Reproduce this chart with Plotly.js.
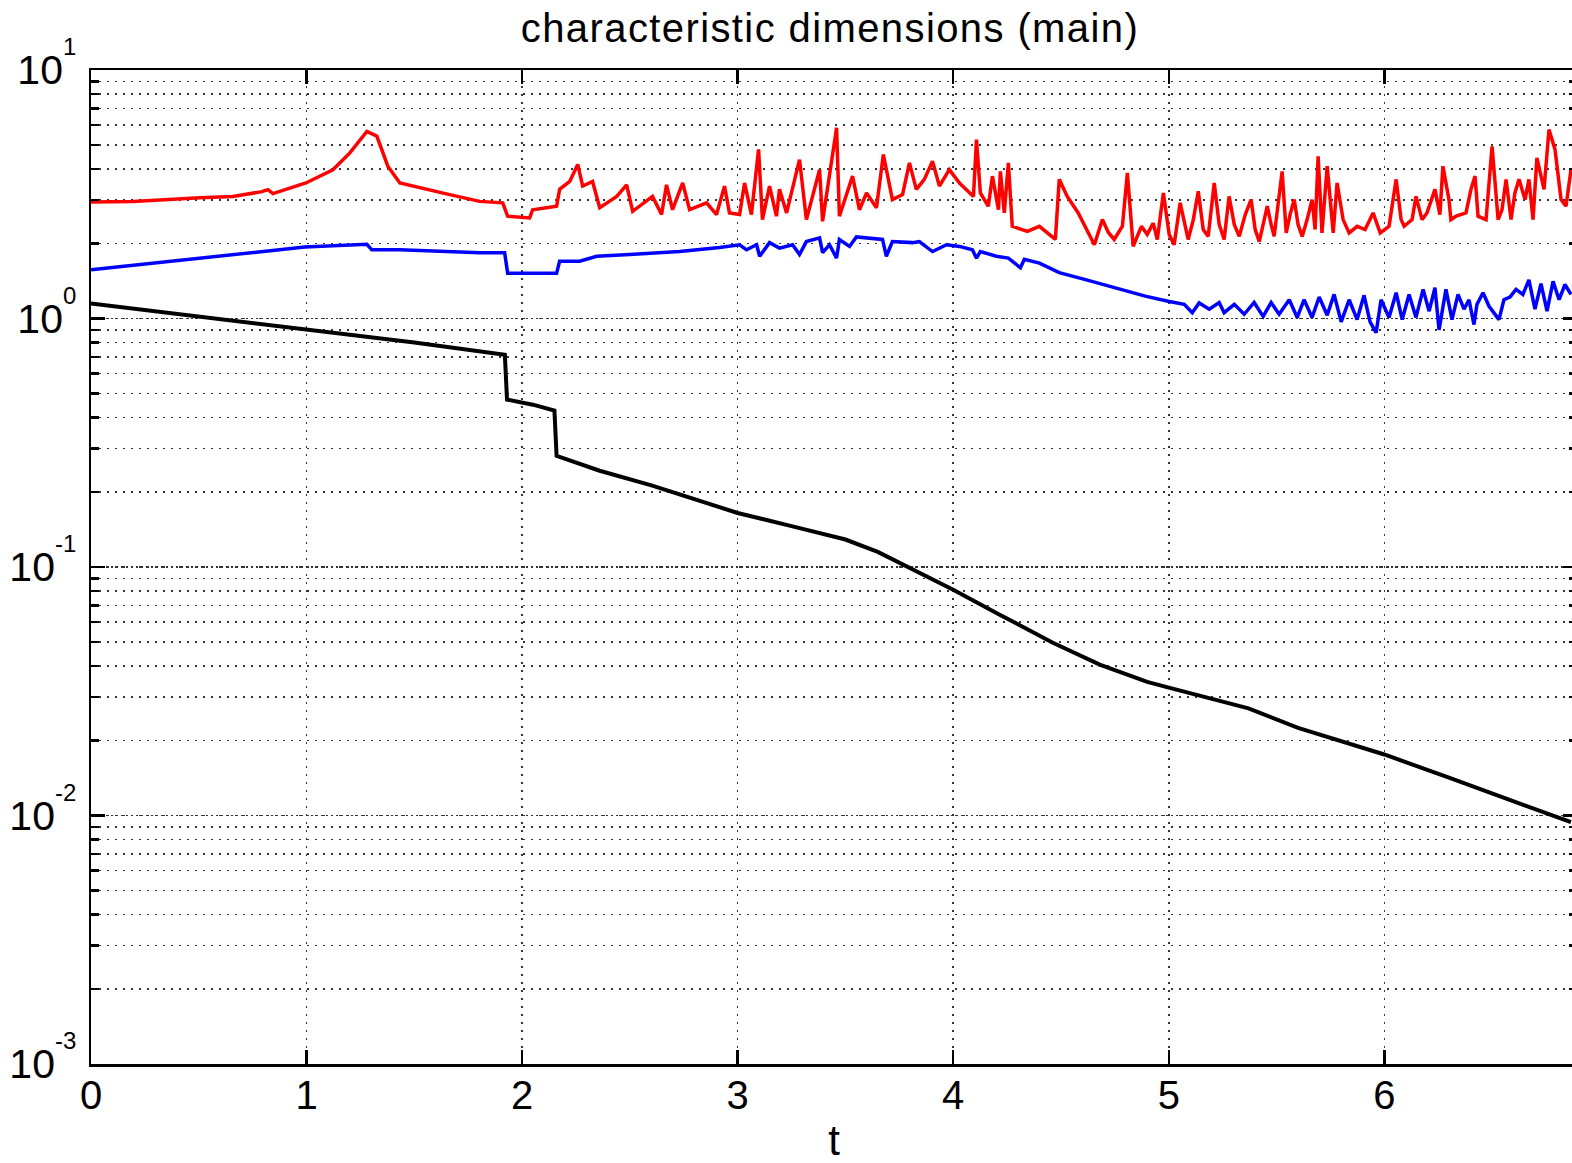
<!DOCTYPE html>
<html>
<head>
<meta charset="utf-8">
<script src="https://cdn.plot.ly/plotly-3.0.1.min.js"></script>
<style>
html, body { margin: 0; padding: 0; overflow: hidden; background: #fff; width: 1572px; height: 1163px; }
#chart { width: 1600px; height: 1180px; }
.gtitle { letter-spacing: 1.4px; }
</style>
</head>
<body>
<div id="chart"></div>
<script>
// ---- data ----
const titleText = 'characteristic dimensions (main)';
const xLabel = 't';
const xTickVals = [0, 1, 2, 3, 4, 5, 6, 7];
const yTickVals = [0.001, 0.01, 0.1, 1, 10];
const yTickExp = ['-3', '-2', '-1', '0', '1'];

const redT = [0,0.195,0.505,0.658,0.793,0.821,0.844,0.997,1.122,1.201,
1.280,1.326,1.377,1.433,1.664,1.803,1.910,1.933,2.035,2.049,
2.160,2.174,2.221,2.258,2.281,2.327,2.360,2.439,2.485,2.513,
2.605,2.647,2.670,2.698,2.745,2.777,2.856,2.902,2.939,2.962,
3.009,3.032,3.064,3.097,3.115,3.148,3.180,3.194,3.227,3.287,
3.319,3.356,3.380,3.394,3.459,3.472,3.505,3.533,3.565,3.598,
3.644,3.676,3.718,3.765,3.797,3.829,3.866,3.904,3.936,3.982,
4.029,4.094,4.108,4.126,4.163,4.182,4.210,4.219,4.237,4.256,
4.274,4.344,4.400,4.474,4.492,4.529,4.580,4.618,4.655,4.692,
4.720,4.747,4.785,4.808,4.835,4.873,4.900,4.928,4.947,4.975,
5.002,5.025,5.053,5.090,5.114,5.137,5.160,5.183,5.211,5.234,
5.257,5.280,5.304,5.327,5.355,5.382,5.401,5.420,5.457,5.475,
5.489,5.526,5.545,5.563,5.582,5.600,5.619,5.642,5.665,5.679,
5.693,5.711,5.735,5.763,5.781,5.809,5.837,5.874,5.911,5.948,
5.981,6.022,6.055,6.078,6.092,6.129,6.147,6.175,6.198,6.235,
6.258,6.272,6.300,6.309,6.333,6.379,6.402,6.421,6.435,6.472,
6.500,6.528,6.546,6.565,6.588,6.606,6.625,6.653,6.671,6.690,
6.708,6.741,6.764,6.792,6.820,6.843,6.866];
const redV = [2.94,2.96,3.06,3.10,3.24,3.30,3.18,3.51,3.97,4.64,
5.66,5.42,4.10,3.51,3.15,2.96,2.92,2.58,2.54,2.74,
2.83,3.31,3.56,4.17,3.41,3.56,2.79,3.10,3.45,2.70,
3.10,2.62,3.45,2.74,3.51,2.74,2.92,2.62,3.41,2.66,
2.62,3.51,2.62,4.79,2.50,3.41,2.58,3.31,2.66,4.36,
2.50,3.31,3.97,2.46,5.85,2.58,3.15,3.74,2.74,3.20,
2.79,4.57,3.01,3.15,4.23,3.31,3.63,4.29,3.41,3.97,
3.51,3.10,5.25,3.20,2.83,3.74,2.74,3.91,2.66,4.23,
2.35,2.24,2.35,2.08,3.63,3.10,2.66,2.28,1.98,2.50,
2.22,2.08,2.35,3.85,1.95,2.35,2.18,2.42,2.08,3.20,
2.18,1.98,2.92,2.08,2.50,3.25,2.28,2.14,3.51,2.39,
2.08,3.10,2.39,2.14,2.62,3.01,2.28,2.04,2.83,2.39,
2.14,3.91,2.21,2.62,3.01,2.39,2.14,2.50,3.01,2.28,
4.49,2.21,4.10,2.21,3.51,2.50,2.21,2.35,2.28,2.66,
2.21,2.35,3.63,2.50,2.35,2.50,3.10,2.50,2.66,3.31,
2.62,4.10,3.01,2.50,2.58,2.66,3.31,3.74,2.58,2.50,
4.93,2.50,2.74,3.63,2.50,3.20,3.63,3.01,3.63,2.50,
4.43,3.31,5.76,4.79,3.01,2.83,3.97];

const blueT = [0,0.992,1.280,1.303,1.433,1.803,1.919,1.933,2.160,2.174,
2.267,2.346,2.499,2.731,2.916,3.009,3.041,3.088,3.102,3.148,
3.194,3.255,3.287,3.319,3.380,3.394,3.426,3.459,3.472,3.519,
3.551,3.611,3.672,3.690,3.718,3.811,3.843,3.904,3.969,4.029,
4.089,4.108,4.126,4.200,4.256,4.312,4.330,4.400,4.492,4.618,
4.747,4.891,5.002,5.072,5.109,5.141,5.188,5.234,5.257,5.304,
5.350,5.396,5.438,5.475,5.512,5.559,5.596,5.628,5.665,5.698,
5.735,5.767,5.800,5.837,5.874,5.906,5.934,5.962,5.985,6.022,
6.055,6.083,6.115,6.147,6.180,6.208,6.235,6.254,6.286,6.314,
6.342,6.370,6.393,6.416,6.430,6.458,6.486,6.532,6.555,6.583,
6.611,6.643,6.671,6.699,6.727,6.755,6.783,6.811,6.838,6.866];
const blueV = [1.57,1.94,1.99,1.89,1.89,1.84,1.84,1.52,1.52,1.70,
1.70,1.78,1.81,1.86,1.93,1.98,1.89,1.98,1.78,2.02,
1.92,1.98,1.81,2.04,2.11,1.84,1.98,1.75,2.08,1.95,
2.13,2.11,2.08,1.78,2.04,2.02,2.04,1.86,1.98,1.95,
1.89,1.75,1.86,1.78,1.75,1.60,1.73,1.67,1.53,1.43,
1.33,1.23,1.17,1.14,1.055,1.155,1.09,1.16,1.055,1.14,
1.04,1.16,1.02,1.16,1.04,1.19,1.01,1.19,1.01,1.22,
1.03,1.25,0.97,1.19,0.99,1.24,0.97,0.877,1.19,1.01,
1.27,0.99,1.25,1.01,1.31,1.07,1.33,0.90,1.31,0.99,
1.25,1.09,1.19,0.945,1.14,1.27,1.12,0.99,1.19,1.22,
1.31,1.25,1.43,1.09,1.38,1.07,1.41,1.19,1.37,1.25];

const blackT = [0,0.5,1.0,1.5,1.92,1.93,2.05,2.15,2.16,2.36,
2.6,3.0,3.25,3.5,3.65,3.77,4.0,4.22,4.46,4.68,
4.9,5.0,5.37,5.6,6.0,6.3,6.62,6.866];
const blackV = [1.15,1.02,0.902,0.80,0.714,0.472,0.45,0.426,0.28,0.244,
0.213,0.165,0.146,0.129,0.115,0.102,0.081,0.064,0.0497,0.0405,
0.0345,0.0327,0.027,0.0225,0.0176,0.0142,0.01125,0.0094];

// ---- chart ----
const font = 'Liberation Sans, Arial, Helvetica, sans-serif';
const yTickText = yTickExp.map(e => '10<sup><sup><span style="font-size:24px">' + e + '</span></sup></sup>');

const traces = [
  {x: redT, y: redV, type: 'scatter', mode: 'lines', line: {color: '#ff0000', width: 3.5}, hoverinfo: 'skip'},
  {x: blueT, y: blueV, type: 'scatter', mode: 'lines', line: {color: '#0000ff', width: 3.5}, hoverinfo: 'skip'},
  {x: blackT, y: blackV, type: 'scatter', mode: 'lines', line: {color: '#000000', width: 4}, hoverinfo: 'skip'}
];

const layout = {
  width: 1600,
  height: 1180,
  margin: {l: 91, r: 23, t: 70, b: 116, pad: 0},
  paper_bgcolor: '#ffffff',
  plot_bgcolor: '#ffffff',
  showlegend: false,
  font: {family: font, color: '#000', size: 40},
  title: {
    text: titleText,
    font: {family: font, size: 40, color: '#000'},
    xref: 'container', x: 830 / 1600, xanchor: 'center',
    yref: 'container', y: 1 - 14 / 1180, yanchor: 'top'
  },
  xaxis: {
    range: [0, 6.894],
    tickmode: 'array',
    tickvals: xTickVals,
    ticks: 'inside', ticklen: 14, tickwidth: 2.5, tickcolor: '#000',
    showline: true, linewidth: 2.5, linecolor: '#000', mirror: 'ticks',
    showgrid: true, gridcolor: '#333', gridwidth: 1.5, griddash: '2px,6px',
    zeroline: false,
    tickfont: {family: font, size: 40, color: '#000'},
    ticklabelstandoff: -6,
    automargin: true,
    title: {text: xLabel, font: {family: font, size: 42, color: '#000'}, standoff: 10}
  },
  yaxis: {
    type: 'log',
    range: [-3, 1],
    tickmode: 'array',
    tickvals: yTickVals,
    ticktext: yTickText,
    ticks: 'inside', ticklen: 14, tickwidth: 2.5, tickcolor: '#000',
    showline: true, linewidth: 2.5, linecolor: '#000', mirror: 'ticks',
    showgrid: true, gridcolor: '#333', gridwidth: 1.5, griddash: '2px,3px',
    zeroline: false,
    tickfont: {family: font, size: 41, color: '#000'},
    ticklabelstandoff: 4,
    automargin: false,
    minor: {
      dtick: 'D1',
      ticks: 'inside', ticklen: 8, tickwidth: 2.5, tickcolor: '#000',
      showgrid: true, gridcolor: '#333', gridwidth: 1.5, griddash: '2px,6px'
    }
  }
};

Plotly.newPlot('chart', traces, layout, {displayModeBar: false, staticPlot: true});
</script>
</body>
</html>
